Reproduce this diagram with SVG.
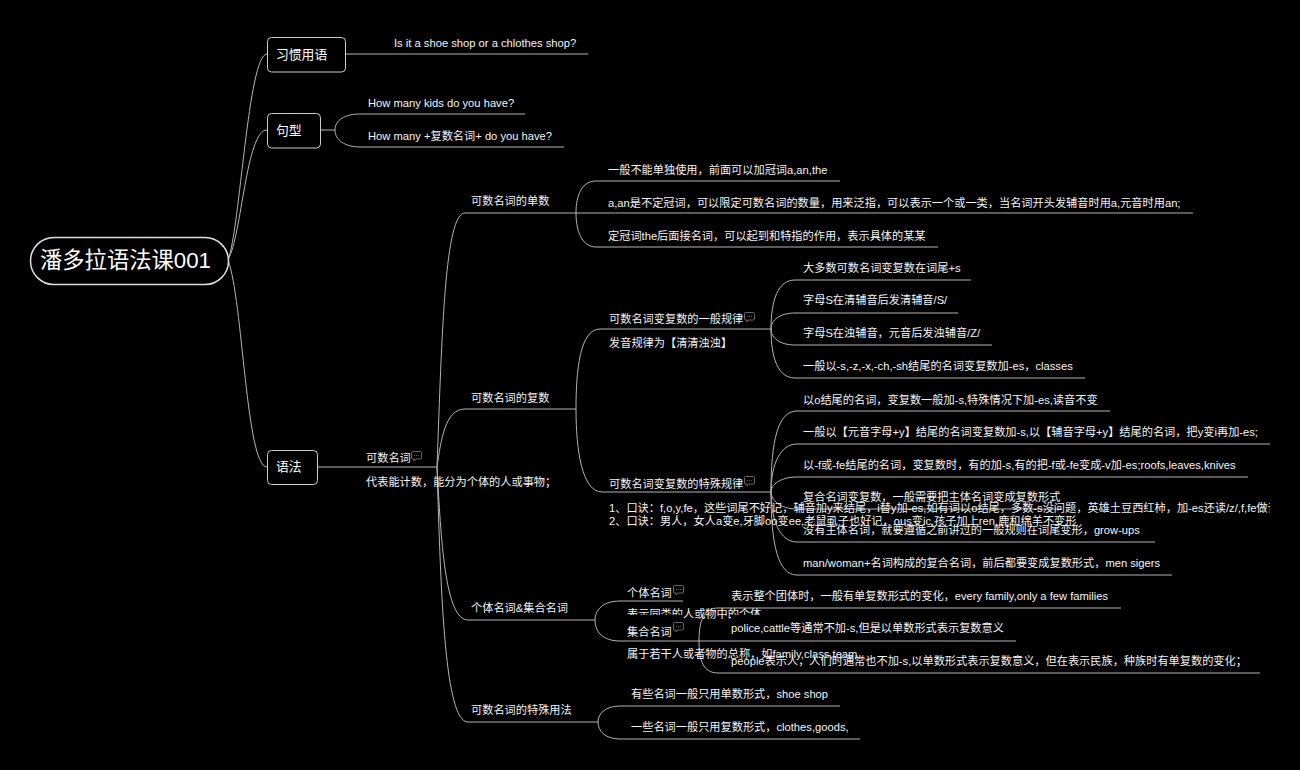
<svg xmlns="http://www.w3.org/2000/svg" width="1300" height="770" viewBox="0 0 1300 770">
<style>
text{font-family:"Liberation Sans","Noto Sans CJK SC",sans-serif;font-size:11.2px;fill:#f4f4f4}
.root{font-size:22.3px;fill:#fff}
.main{font-size:12.8px;fill:#fff}
.box{fill:#000;stroke:#ccc;stroke-width:1}
.rootbox{fill:#000;stroke:#e0e0e0;stroke-width:1.5}
#connectors path{fill:none;stroke:#b4b4b4;stroke-width:1}
.mask{fill:#000}
</style>
<defs>
<g id="note"><path d="M1.500 0.500H9.500a1 1 0 0 1 1 1V7a1 1 0 0 1-1 1H4.500L3 10V8H1.500a1 1 0 0 1-1-1V1.500a1 1 0 0 1 1-1Z" fill="none" stroke="#666" stroke-width="1"/><path d="M3 4.500H8" stroke="#555" stroke-width="1" stroke-dasharray="1 1" fill="none"/></g>
<clipPath id="clip-note"><rect x="600" y="495" width="670" height="35"/></clipPath>
</defs>
<rect width="1300" height="770" fill="#000"/>
<g id="connectors">
<path d="M228 260C240 230 248 54 267 54"/>
<path d="M228 260C242 235 246 130 267 130"/>
<path d="M228 260C243 300 246 467 267 467"/>
<path d="M345 54H588"/>
<path d="M320 130H335C335 120 345 114 360 114H525"/>
<path d="M335 130C335 140 345 147 360 147H564"/>
<path d="M317 467H437"/>
<path d="M437 467C442 330 445 213 465 213H576"/>
<path d="M437 467C441 440 445 409 465 409H576"/>
<path d="M437 467C441 540 445 620 468 620H595"/>
<path d="M437 467C441 600 445 722 468 722H598"/>
<path d="M576 213C576 195 582 181 596 181H840"/>
<path d="M576 213H1193"/>
<path d="M576 213C576 231 582 247 596 247H938"/>
<path d="M576 409C576 370 580 329 600 329H772"/>
<path d="M576 409C576 450 582 492 602 492H771"/>
<path d="M771 329C771 300 778 280 795 280H971"/>
<path d="M771 329C771 320 780 313 795 313H958"/>
<path d="M771 329C771 338 780 345 795 345H992"/>
<path d="M771 329C771 358 778 378 795 378H1085"/>
<path d="M771 492C771 440 778 411 797 411H1110"/>
<path d="M771 492C771 465 780 444 797 444H1270"/>
<path d="M771 492C771 485 780 477 797 477H1248"/>
<path d="M771 492C771 500 780 509 797 509H1062"/>
<path d="M771 492C771 520 780 542 797 542H1155"/>
<path d="M771 492C771 545 778 575 797 575H1172"/>
<path d="M595 620C595 610 603 601 620 601H683"/>
<path d="M595 620C595 632 603 641 620 641H1016"/>
<path d="M699 641C699 622 703 608 718 608H1121"/>
<path d="M699 641C699 660 703 673 718 673H1260"/>
<path d="M598 722C598 714 605 706 620 706H840"/>
<path d="M598 722C598 731 605 739 620 739H860"/>
</g>
<g id="root"><rect class="rootbox" x="30.500" y="237.500" width="198" height="47" rx="23.500"/><text class="root" x="40" y="268">潘多拉语法课001</text></g>
<g id="n-xiguan"><rect class="box" x="267.500" y="37.500" width="78" height="34.500" rx="4"/><text class="main" x="276" y="59">习惯用语</text></g>
<g id="n-juxing"><rect class="box" x="267.500" y="113.500" width="53" height="34.500" rx="4"/><text class="main" x="276" y="135">句型</text></g>
<g id="n-yufa"><rect class="box" x="267.500" y="450.500" width="50" height="34" rx="4"/><text class="main" x="276" y="471">语法</text></g>
<g id="n-shoe"><text x="394" y="47">Is it a shoe shop or a chlothes shop?</text></g>
<g id="n-kids"><text x="368" y="107">How many kids do you have?</text></g>
<g id="n-many"><text x="368" y="140">How many +复数名词+ do you have?</text></g>
<g id="n-kcount"><text x="366" y="462">可数名词</text><use href="#note" x="411" y="451"/><text x="366" y="486">代表能计数，能分为个体的人或事物；</text></g>
<g id="n-single"><text x="471" y="205">可数名词的单数</text></g>
<g id="n-plural"><text x="471" y="402">可数名词的复数</text></g>
<g id="n-collective"><text x="471" y="612">个体名词&amp;集合名词</text></g>
<g id="n-special"><text x="471" y="714">可数名词的特殊用法</text></g>
<g id="n-s1"><text x="608" y="173.500">一般不能单独使用，前面可以加冠词a,an,the</text></g>
<g id="n-s2"><text x="608" y="207">a,an是不定冠词，可以限定可数名词的数量，用来泛指，可以表示一个或一类，当名词开头发辅音时用a,元音时用an;</text></g>
<g id="n-s3"><text x="608" y="240">定冠词the后面接名词，可以起到和特指的作用，表示具体的某某</text></g>
<g id="n-general"><text x="609" y="323">可数名词变复数的一般规律</text><use href="#note" x="744" y="312"/><text x="609" y="347">发音规律为【清清浊浊】</text></g>
<g id="n-g1"><text x="803" y="272">大多数可数名词变复数在词尾+s</text></g>
<g id="n-g2"><text x="803" y="304">字母S在清辅音后发清辅音/S/</text></g>
<g id="n-g3"><text x="803" y="337">字母S在浊辅音，元音后发浊辅音/Z/</text></g>
<g id="n-g4"><text x="803" y="370">一般以-s,-z,-x,-ch,-sh结尾的名词变复数加-es，classes</text></g>
<g id="n-p1"><text x="803" y="404">以o结尾的名词，变复数一般加-s,特殊情况下加-es,读音不变</text></g>
<g id="n-p2"><text x="803" y="436">一般以【元音字母+y】结尾的名词变复数加-s,以【辅音字母+y】结尾的名词，把y变i再加-es;</text></g>
<g id="n-p3"><text x="803" y="469">以-f或-fe结尾的名词，变复数时，有的加-s,有的把-f或-fe变成-v加-es;roofs,leaves,knives</text></g>
<g id="n-p4"><text x="803" y="501">复合名词变复数，一般需要把主体名词变成复数形式</text></g>
<g id="n-p5"><text x="803" y="534">没有主体名词，就要遵循之前讲过的一般规则在词尾变形，grow-ups</text></g>
<g id="n-p6"><text x="803" y="567">man/woman+名词构成的复合名词，前后都要变成复数形式，men sigers</text></g>
<g id="n-irregular"><text x="609" y="488">可数名词变复数的特殊规律</text><use href="#note" x="744" y="476"/>
<g clip-path="url(#clip-note)"><text x="609" y="511.500">1、口诀：f,o,y,fe，这些词尾不好记，辅音加y来结尾，i替y加-es,如有词以o结尾，多数-s没问题，英雄土豆西红柿，加-es还读/z/,f,fe做词</text><text x="609" y="525">2、口诀：男人，女人a变e,牙脚oo变ee,老鼠虱子也好记，ous变ic,孩子加上ren,鹿和绵羊不变形</text></g></g>
<g id="n-individual"><text x="627" y="597">个体名词</text><use href="#note" x="673" y="585"/><text x="627" y="618">表示同类的人或物中的个体</text></g>
<g id="n-group"><rect class="mask" x="627" y="615" width="56" height="25"/><text x="627" y="636">集合名词</text><use href="#note" x="673" y="622"/><text x="627" y="658">属于若干人或者物的总称，如family,class,team</text></g>
<g id="n-c1"><text x="731" y="600">表示整个团体时，一般有单复数形式的变化，every family,only a few families</text></g>
<g id="n-c2"><rect class="mask" x="731" y="615" width="285" height="25"/><text x="731" y="632">police,cattle等通常不加-s,但是以单数形式表示复数意义</text></g>
<g id="n-c3"><text x="731" y="665">people表示人，人们时通常也不加-s,以单数形式表示复数意义，但在表示民族，种族时有单复数的变化；</text></g>
<g id="n-u1"><text x="631" y="698">有些名词一般只用单数形式，shoe shop</text></g>
<g id="n-u2"><text x="631" y="731">一些名词一般只用复数形式，clothes,goods,</text></g>
</svg>
